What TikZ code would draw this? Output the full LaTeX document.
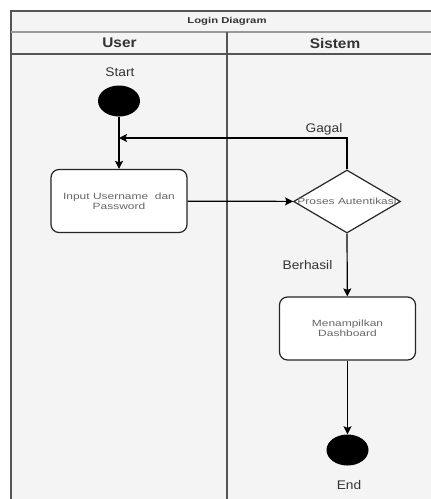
\documentclass[tikz,border=0pt]{standalone}
\usepackage{fontspec}
\setmainfont{Liberation Sans}[FakeStretch=1.1]
\newfontfamily\widefont{Liberation Sans}[FakeStretch=1.33]
\usetikzlibrary{shapes.geometric,arrows.meta}
\definecolor{bgc}{HTML}{F4F4F4}
\definecolor{framec}{HTML}{555555}
\definecolor{lblc}{HTML}{333333}
\definecolor{boxtxt}{HTML}{666666}
\tikzset{
  framel/.style={draw=framec, line width=1.5pt},
  actbox/.style={draw=black!85, line width=1.2pt, fill=white, rounded corners=8pt,
     minimum width=136pt, minimum height=63pt, inner sep=0pt,
     font=\widefont\fontsize{9}{11}\selectfont, text=boxtxt, align=center},
  decbox/.style={diamond, draw=black!85, line width=1.2pt, fill=white,
     minimum width=107pt, minimum height=63pt, inner sep=0pt, shape aspect=1.7},
  dot/.style={ellipse, fill=black, minimum width=42pt, minimum height=31pt, inner sep=0pt},
  lbl/.style={font=\fontsize{12.5}{14}\selectfont, text=lblc, inner sep=0pt},
  hdr/.style={font=\bfseries\fontsize{14}{16}\selectfont, text=lblc, inner sep=0pt},
  flow/.style={draw=black, line width=1.2pt, -{Stealth[length=8pt,width=8pt,inset=1.5pt]}},
}
\begin{document}
\begin{tikzpicture}[x=1pt,y=-1pt]
\useasboundingbox (0,0) rectangle (431,499);
\begin{scope}
\clip (0,0) rectangle (431,499);
\fill[white] (0,0) rectangle (431,499);
\fill[bgc] (11,11) rectangle (450,520);
\draw[framel] (11,520) -- (11,11) -- (450,11);
\draw[draw=gray!80, line width=2.5pt] (11,32) -- (450,32);
\draw[draw=framec, line width=1.3pt] (11,54) -- (450,54);
\draw[draw=framec, line width=1.5pt] (227,32) -- (227,520);
\end{scope}
% headers
\node[font=\widefont\bfseries\fontsize{8.5}{10}\selectfont, text=lblc] (title) at (227,21.5) {Login Diagram};
\node[hdr] (huser) at (119.5,43) {User};
\node[hdr] (hsis) at (335,43) {Sistem};
% nodes
\node[lbl] (lstart) at (120,72) {Start};
\node[dot] (start) at (119,101) {};
\node[actbox] (input) at (119,201) {Input Username\ \ dan\\[-1pt]Password};
\node[decbox] (dec) at (347,201.5) {};
\node[font=\widefont\fontsize{9}{11}\selectfont, text=boxtxt, inner sep=0pt] (dectext) at (dec.center) {Proses Autentikasi};
\node[actbox] (dash) at (347.5,328.5) {Menampilkan\\[-1pt]Dashboard};
\node[dot] (end) at (347.5,450) {};
\node[lbl] (lend) at (349,485) {End};
\node[lbl] (lgagal) at (324,129) {Gagal};
\node[lbl] (lberhasil) at (307.5,265) {Berhasil};
\coordinate (gagalend) at (119,138);
% connectors
\draw[flow] (start) -- (input);
\draw[flow] (input) -- (dec);
\draw[flow] (dec.north) |- (gagalend);
\draw[flow] (dec.south) -- (dash);
\draw[flow] (dash) -- (end);
\end{tikzpicture}
\end{document}
